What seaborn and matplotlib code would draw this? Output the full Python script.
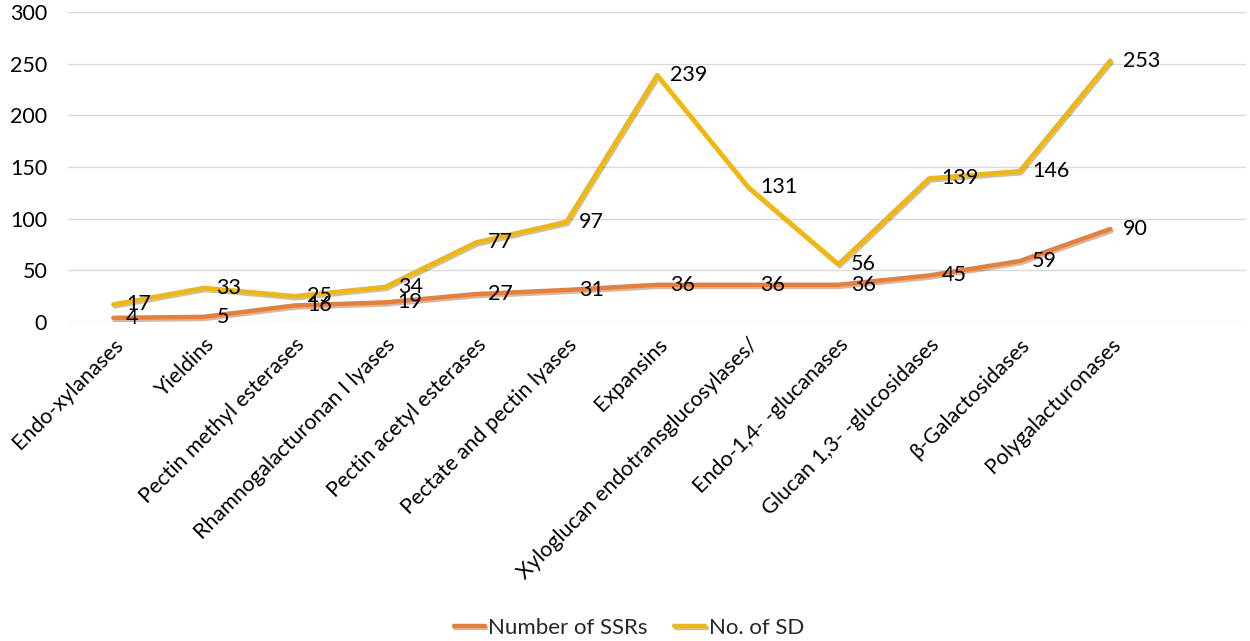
import pandas as pd
import matplotlib.pyplot as plt
import matplotlib.patheffects as pe
import seaborn as sns

# chart data
enzymes = ['Endo-xylanases', 'Yieldins', 'Pectin methyl esterases',
           'Rhamnogalacturonan I lyases', 'Pectin acetyl esterases',
           'Pectate and pectin lyases', 'Expansins',
           'Xyloglucan endotransglucosylases/', 'Endo-1,4- -glucanases',
           'Glucan 1,3- -glucosidases', 'β-Galactosidases', 'Polygalacturonases']
num_ssrs = [4, 5, 16, 19, 27, 31, 36, 36, 36, 45, 59, 90]
num_sd = [17, 33, 25, 34, 77, 97, 239, 131, 56, 139, 146, 253]
series_names = ['Number of SSRs', 'No. of SD']
colors = ['#ED7D31', '#F5B800']

sns.set_style('white')
plt.rcParams['font.family'] = ['Lato', 'DejaVu Sans']

df = pd.DataFrame({'Enzyme': enzymes * 2,
                   'Value': num_ssrs + num_sd,
                   'Series': [series_names[0]] * len(enzymes) + [series_names[1]] * len(enzymes)})
df['pos'] = list(range(len(enzymes))) * 2

fig = plt.figure(figsize=(12.5, 6.41), dpi=100)
ax = fig.add_axes([0.0544, 0.4977, 0.9426, 0.4836])

sns.lineplot(data=df, x='pos', y='Value', hue='Series', palette=colors,
             linewidth=3.2, sort=False, ax=ax,
             path_effects=[pe.SimpleLineShadow(offset=(1, -1.5), alpha=0.25), pe.Normal()])

# data labels to the right of each point
for vals in [num_ssrs, num_sd]:
    for i, v in enumerate(vals):
        ax.annotate(str(v), (i, v), xytext=(9, 0), textcoords='offset points',
                    ha='left', va='center', fontsize=15.5, color='black')

ax.set_xlim(-0.5, len(enzymes) + 0.5)
ax.set_ylim(0, 300)
ax.set_yticks(range(0, 301, 50))
ax.grid(axis='y', color='#D9D9D9', linewidth=1)
ax.set_axisbelow(True)
for s in ax.spines.values():
    s.set_visible(False)

ax.set_xticks(range(len(enzymes)))
ax.set_xticklabels(enzymes, rotation=45, ha='right', va='top',
                   rotation_mode='anchor', fontsize=15.5)
ax.tick_params(axis='both', length=0, colors='black')
ax.tick_params(axis='y', labelsize=15.5, pad=15)
ax.tick_params(axis='x', pad=9)
ax.set_xlabel('')
ax.set_ylabel('')

handles, labels = ax.get_legend_handles_labels()
ax.legend(handles, labels, loc='center', bbox_to_anchor=(0.503, 0.02),
          bbox_transform=fig.transFigure, ncol=2, frameon=False, fontsize=16,
          handlelength=1.4, handletextpad=0.15, columnspacing=1.2)

fig.savefig('out.png', dpi=100)
